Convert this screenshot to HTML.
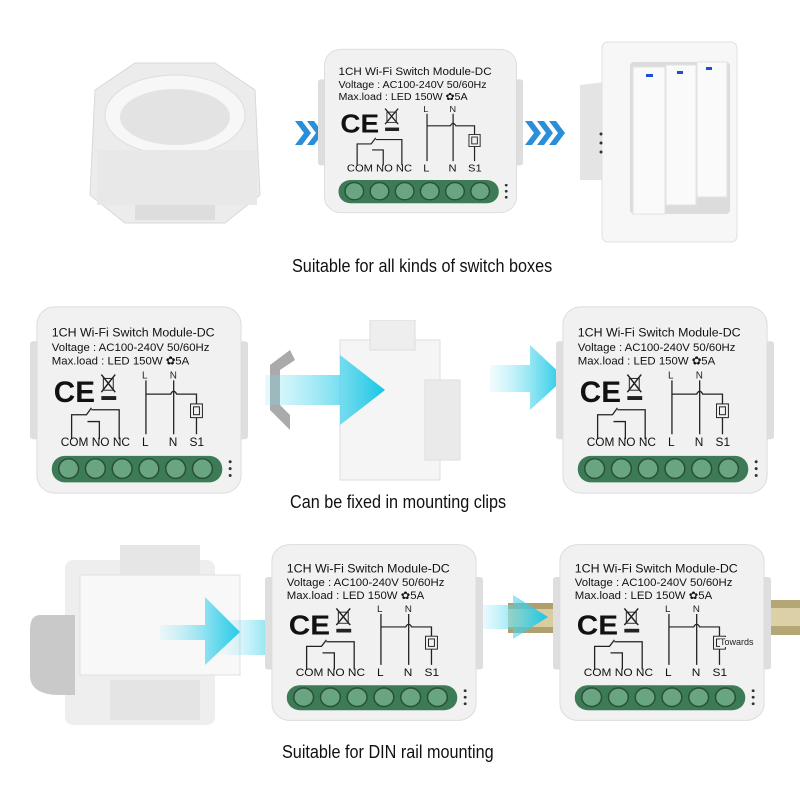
<!DOCTYPE html>
<html><head><meta charset="utf-8"><style>
body{margin:0;width:800px;height:800px;background:#fff;position:relative;overflow:hidden;font-family:"Liberation Sans",sans-serif}
.m{position:absolute}
.cap{position:absolute;font-family:"Liberation Sans",sans-serif;font-size:18px;color:#111;white-space:nowrap;transform:scaleX(.9);transform-origin:left}
</style></head><body>

<!-- switch box (round) -->
<svg class="m" style="left:75px;top:55px" width="195" height="175" viewBox="0 0 195 175">
<path d="M20 35 L60 8 L140 8 L180 35 L185 140 L150 168 L50 168 L15 140 Z" fill="#ececec" stroke="#d8d8d8"/>
<ellipse cx="100" cy="60" rx="70" ry="40" fill="#f7f7f7" stroke="#ddd"/>
<ellipse cx="100" cy="62" rx="55" ry="28" fill="#e3e3e3"/>
<rect x="22" y="95" width="160" height="55" fill="#e8e8e8"/>
<rect x="60" y="150" width="80" height="15" fill="#ddd"/>
</svg>

<!-- chevrons top -->
<svg class="m" style="left:295px;top:118px" width="60" height="30" viewBox="0 0 60 30">
<g fill="#2a8fd8"><path d="M0 3 L7 3 L16 15 L7 27 L0 27 L9 15Z"/><path d="M12 3 L19 3 L28 15 L19 27 L12 27 L21 15Z"/><path d="M24 3 L31 3 L40 15 L31 27 L24 27 L33 15Z"/></g></svg>
<svg class="m" style="left:525px;top:118px" width="60" height="30" viewBox="0 0 60 30">
<g fill="#2a8fd8"><path d="M0 3 L7 3 L16 15 L7 27 L0 27 L9 15Z"/><path d="M12 3 L19 3 L28 15 L19 27 L12 27 L21 15Z"/><path d="M24 3 L31 3 L40 15 L31 27 L24 27 L33 15Z"/></g></svg>

<!-- wall switch -->
<svg class="m" style="left:580px;top:30px" width="220" height="230" viewBox="0 0 220 230">
<path d="M0 55 L25 52 L25 150 L0 150 Z" fill="#e4e4e4"/>
<rect x="22" y="12" width="135" height="200" rx="6" fill="#f7f7f7" stroke="#e0e0e0"/>
<rect x="50" y="32" width="100" height="152" rx="4" fill="#dcdcdc"/>
<rect x="53" y="37" width="32" height="147" fill="#fafafa" stroke="#e2e2e2"/>
<rect x="86" y="35" width="30" height="140" fill="#fafafa" stroke="#e2e2e2"/>
<rect x="117" y="32" width="30" height="135" fill="#fafafa" stroke="#e2e2e2"/>
<rect x="66" y="44" width="7" height="3" fill="#1c4fd0"/>
<rect x="97" y="41" width="6" height="3" fill="#1c4fd0"/>
<rect x="126" y="37" width="6" height="3" fill="#1c4fd0"/>
<circle cx="21" cy="104" r="1.5" fill="#333"/><circle cx="21" cy="113" r="1.5" fill="#333"/><circle cx="21" cy="122" r="1.5" fill="#333"/>
</svg>

<!-- mounting clip middle -->
<svg class="m" style="left:250px;top:320px" width="260" height="170" viewBox="0 0 260 170">
<defs><linearGradient id="cy" x1="0" x2="1"><stop offset="0" stop-color="#7fe3f3" stop-opacity=".2"/><stop offset="1" stop-color="#17c6e6"/></linearGradient></defs>
<path d="M40 30 L20 45 L20 90 L40 110 L40 95 L30 85 L30 50 L45 40 Z" fill="#aaa"/>
<rect x="90" y="20" width="100" height="140" fill="#f5f5f5" stroke="#ddd"/>
<rect x="120" y="0" width="45" height="30" fill="#eee" stroke="#ddd"/>
<rect x="175" y="60" width="35" height="80" fill="#eaeaea" stroke="#ddd"/>
<path d="M15 55 L90 55 L90 35 L135 70 L90 105 L90 85 L15 85 Z" fill="url(#cy)"/>
</svg>
<svg class="m" style="left:490px;top:340px" width="80" height="80" viewBox="0 0 80 80">
<defs><linearGradient id="cy2" x1="0" x2="1"><stop offset="0" stop-color="#7fe3f3" stop-opacity=".1"/><stop offset="1" stop-color="#17c6e6"/></linearGradient></defs>
<path d="M0 25 L40 25 L40 5 L75 38 L40 70 L40 52 L0 52 Z" fill="url(#cy2)"/>
</svg>

<!-- DIN clip bottom left -->
<svg class="m" style="left:20px;top:535px" width="250" height="200" viewBox="0 0 250 200">
<defs><linearGradient id="cy3" x1="0" x2="1"><stop offset="0" stop-color="#7fe3f3" stop-opacity=".1"/><stop offset="1" stop-color="#17c6e6"/></linearGradient></defs>
<rect x="45" y="25" width="150" height="165" rx="8" fill="#eeeeee"/>
<path d="M20 80 Q10 80 10 95 L10 140 Q10 160 40 160 L55 160 L55 80 Z" fill="#c9c9c9"/>
<rect x="60" y="40" width="160" height="100" fill="#f8f8f8" stroke="#e0e0e0"/>
<rect x="100" y="10" width="80" height="30" fill="#e6e6e6"/>
<rect x="90" y="145" width="90" height="40" fill="#e4e4e4"/>
<path d="M140 90 L185 90 L185 62 L220 97 L185 130 L185 105 L140 105 Z" fill="url(#cy3)"/>
<path d="M200 85 L250 85 L250 120 L200 120 Z" fill="url(#cy3)" opacity=".5"/>
</svg>

<!-- DIN rail bottom -->
<svg class="m" style="left:478px;top:595px" width="90" height="50" viewBox="0 0 90 50">
<defs><linearGradient id="cy4" x1="0" x2="1"><stop offset="0" stop-color="#7fe3f3" stop-opacity=".1"/><stop offset="1" stop-color="#17c6e6"/></linearGradient></defs>
<rect x="30" y="8" width="60" height="30" fill="#b0a070"/>
<rect x="30" y="14" width="60" height="18" fill="#d8cca0"/>
<path d="M0 10 L35 10 L35 0 L70 22 L35 44 L35 34 L0 34 Z" fill="url(#cy4)"/>
</svg>
<svg class="m" style="left:765px;top:590px" width="35" height="55" viewBox="0 0 35 55">
<rect x="0" y="10" width="35" height="35" fill="#b5a676"/><rect x="0" y="18" width="35" height="18" fill="#dcd0a6"/>
</svg>

<!-- modules -->
<svg class="m" style="left:318px;top:45px" width="205" height="172" viewBox="0 0 220 200" preserveAspectRatio="none">
<g id="mod">
<rect x="0" y="40" width="12" height="100" rx="3" fill="#dedede"/><rect x="208" y="40" width="12" height="100" rx="3" fill="#dedede"/>
<rect x="7" y="5" width="206" height="190" rx="18" fill="#f1f1f1" stroke="#dcdcdc"/>
<text x="22" y="35" font-size="12.5" fill="#111">1CH Wi-Fi Switch Module-DC</text>
<text x="22" y="50" font-size="11.5" fill="#111">Voltage : AC100-240V 50/60Hz</text>
<text x="22" y="64" font-size="11.5" fill="#111">Max.load : LED 150W ✿5A</text>
<text x="24" y="102" font-size="30" font-weight="bold" fill="#111">CE</text>
<path d="M72 74 L86 92 M86 74 L72 92" stroke="#222" stroke-width="1.5"/><rect x="74" y="78" width="10" height="12" fill="none" stroke="#222"/>
<rect x="72" y="96" width="15" height="4" fill="#222"/>
<path d="M42 140 L42 115 L57 115 L62 108 M58 122 L70 122 L70 140 M90 140 L90 110 L62 110" stroke="#222" fill="none" stroke-width="1.3"/>
<path d="M117 80 L117 135 M145 80 L145 135 M117 94 L142 94 Q145 88 148 94 L168 94 L168 135" stroke="#222" fill="none" stroke-width="1.3"/>
<rect x="162" y="104" width="12" height="14" fill="#f1f1f1" stroke="#222"/><rect x="165" y="107" width="6" height="8" fill="none" stroke="#222"/>
<text x="113" y="78" font-size="10" fill="#222">L</text><text x="141" y="78" font-size="10" fill="#222">N</text>
<text x="31" y="147" font-size="12" fill="#111">COM NO  NC</text>
<text x="113" y="147" font-size="12" fill="#111">L</text><text x="140" y="147" font-size="12" fill="#111">N</text><text x="161" y="147" font-size="12" fill="#111">S1</text>
<rect x="22" y="157" width="172" height="27" rx="13" fill="#3d7a56"/>
<g fill="#6aa582" stroke="#284f38" stroke-width="1.5">
<circle cx="39" cy="170" r="10"/><circle cx="66" cy="170" r="10"/><circle cx="93" cy="170" r="10"/><circle cx="120" cy="170" r="10"/><circle cx="147" cy="170" r="10"/><circle cx="174" cy="170" r="10"/></g>
<circle cx="202" cy="163" r="1.5" fill="#333"/><circle cx="202" cy="170" r="1.5" fill="#333"/><circle cx="202" cy="177" r="1.5" fill="#333"/>
</g></svg>
<svg class="m" style="left:30px;top:302px" width="218" height="196" viewBox="0 0 220 200" preserveAspectRatio="none"><use href="#mod"/></svg>
<svg class="m" style="left:556px;top:302px" width="218" height="196" viewBox="0 0 220 200" preserveAspectRatio="none"><use href="#mod"/></svg>
<svg class="m" style="left:265px;top:540px" width="218" height="185" viewBox="0 0 220 200" preserveAspectRatio="none"><use href="#mod"/></svg>
<svg class="m" style="left:553px;top:540px" width="218" height="185" viewBox="0 0 220 200" preserveAspectRatio="none"><use href="#mod"/></svg>
<div style="position:absolute;left:720px;top:637px;font-size:9px;color:#222;background:#f1f1f1">Towards</div>

<div class="cap" style="left:292px;top:256px">Suitable for all kinds of switch boxes</div>
<div class="cap" style="left:290px;top:492px">Can be fixed in mounting clips</div>
<div class="cap" style="left:282px;top:742px">Suitable for DIN rail mounting</div>
</body></html>
